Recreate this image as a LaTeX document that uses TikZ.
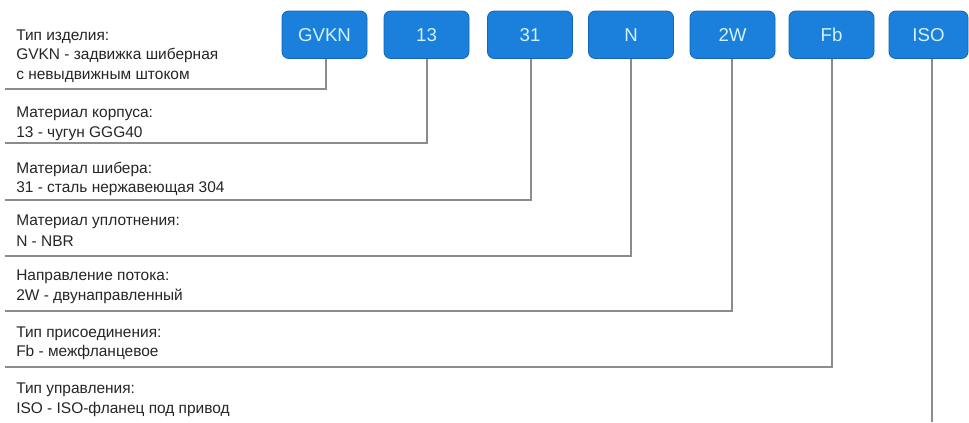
\documentclass[tikz,border=0pt]{standalone}
\usepackage{fontspec}
\setmainfont{Liberation Sans}
\definecolor{boxblue}{HTML}{1A80DC}
\definecolor{boxedge}{HTML}{1466B4}
\definecolor{boxtext}{HTML}{D2F2FF}
\definecolor{linegray}{HTML}{8C8C8C}
\definecolor{txt}{HTML}{262626}
\begin{document}
\begin{tikzpicture}[x=0.75pt,y=-0.75pt,
  codebox/.style={draw=boxedge, fill=boxblue, rounded corners=5pt, minimum width=63.75pt, minimum height=35.6pt, inner sep=0pt, text=boxtext, font=\fontsize{14}{16}\selectfont, line width=0.6pt},
  lbl/.style={anchor=base west, inner sep=0pt, font=\fontsize{11.6}{13}\selectfont, text=txt},
  conn/.style={draw=linegray, line width=1pt}]
\useasboundingbox[fill=white] (0,0) rectangle (969,422);
% code boxes
\node[codebox] (b1) at (324.5,34.75) {GVKN};
\node[codebox] (b2) at (426.5,34.75) {13};
\node[codebox] (b3) at (530,34.75) {31};
\node[codebox] (b4) at (631,34.75) {N};
\node[codebox] (b5) at (732.5,34.75) {2W};
\node[codebox] (b6) at (831.5,34.75) {Fb};
\node[codebox, minimum width=59.25pt] (b7) at (928.5,34.75) {ISO};
% labels
\node[lbl] (t1a) at (16,40) {Тип изделия:};
\node[lbl] (t1b) at (16,59.5) {GVKN - задвижка шиберная};
\node[lbl] (t1c) at (16,79.5) {с невыдвижным штоком};
\node[lbl] (t2a) at (16,117) {Материал корпуса:};
\node[lbl] (t2b) at (16,137) {13 - чугун GGG40};
\node[lbl] (t3a) at (16,173) {Материал шибера:};
\node[lbl] (t3b) at (16,192.5) {31 - сталь нержавеющая 304};
\node[lbl] (t4a) at (16,225) {Материал уплотнения:};
\node[lbl] (t4b) at (16,246) {N - NBR};
\node[lbl] (t5a) at (16,280) {Направление потока:};
\node[lbl] (t5b) at (16,300.5) {2W - двунаправленный};
\node[lbl] (t6a) at (16,337) {Тип присоединения:};
\node[lbl] (t6b) at (16,356) {Fb - межфланцевое};
\node[lbl] (t7a) at (16,393) {Тип управления:};
\node[lbl] (t7b) at (16,413) {ISO - ISO-фланец под привод};
% connector corners and ends
\coordinate (k1) at (326,89);  \coordinate (e1) at (5,89);
\coordinate (k2) at (427,143); \coordinate (e2) at (5,143);
\coordinate (k3) at (531,200); \coordinate (e3) at (5,200);
\coordinate (k4) at (631,256); \coordinate (e4) at (5,256);
\coordinate (k5) at (732,311); \coordinate (e5) at (5,311);
\coordinate (k6) at (832,367); \coordinate (e6) at (5,367);
\coordinate (k7) at (932,422);
\draw[conn] (b1.south -| k1) -- (k1) -- (e1);
\draw[conn] (b2.south -| k2) -- (k2) -- (e2);
\draw[conn] (b3.south -| k3) -- (k3) -- (e3);
\draw[conn] (b4.south -| k4) -- (k4) -- (e4);
\draw[conn] (b5.south -| k5) -- (k5) -- (e5);
\draw[conn] (b6.south -| k6) -- (k6) -- (e6);
\draw[conn] (b7.south -| k7) -- (k7);
\end{tikzpicture}
\end{document}
